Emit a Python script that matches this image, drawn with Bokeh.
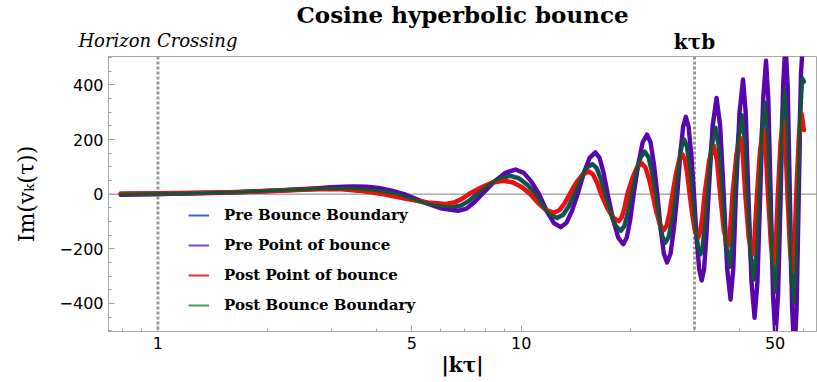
from bokeh.plotting import figure
from bokeh.models import (FixedTicker, CustomJSTickFormatter, Span, Title, LogAxis,
                          Legend, LegendItem, Range1d)
from bokeh.embed import file_html
from bokeh.resources import INLINE

# ---- data ----
# Pre Point of bounce (purple)
P_X = [0.79, 0.9, 1.0, 1.2, 1.5, 1.8, 2.1, 2.4, 2.7, 3.0, 3.25, 3.45, 3.75, 4.05, 4.4,
       4.76, 5.41, 6.05, 6.7, 7.07, 7.43,
       7.8, 8.42, 9.03, 9.65, 10.17, 10.68,
       11.2, 11.74, 12.29, 12.83, 13.32, 13.81,
       14.3, 14.87, 15.43, 16.0, 16.43, 16.87,
       17.3, 17.9, 18.5, 19.1, 19.53, 19.97,
       20.4, 21.0, 21.6, 22.2, 22.7, 23.2,
       23.7, 24.2, 24.7, 25.2, 25.77, 26.33,
       26.9, 27.4, 27.9, 28.4, 28.9, 29.4,
       29.9, 30.4, 30.9, 31.4, 31.87, 32.33,
       32.8, 33.65, 34.5, 35.3,
       36.1, 36.9, 37.7, 38.35,
       39.0, 39.9, 40.8, 41.5,
       42.2, 43.05, 43.9, 44.7,
       45.5, 46.35, 47.2, 47.9,
       48.6, 49.35, 50.1, 50.95,
       51.8, 52.6, 53.4, 54.15,
       54.9, 55.7, 56.5, 57.3,
       58.1, 58.9, 60.0]
P_Y = [-2, -1, 0, 2, 5, 9, 13, 17, 21, 25, 27, 28, 27, 23, 13,
       0, -30, -53, -61, -53, -30,
       0, 45, 78, 90, 78, 45,
       0, -60, -105, -121, -105, -60,
       0, 77, 133, 153, 133, 77,
       0, -92, -159, -183, -159, -92,
       0, 109, 190, 218, 190, 109,
       0, -125, -218, -250, -218, -125,
       0, 142, 246, 283, 246, 142,
       0, -158, -275, -316, -275, -158,
       0, 250, 352, 250,
       0, -274, -386, -274,
       0, 298, 420, 298,
       0, -322, -453, -322,
       0, 347, 489, 347,
       0, -371, -522, -371,
       0, 395, 556, 395,
       0, -419, -590, -419,
       0, 440, 615]

# Post Bounce Boundary (green) -- Pre Bounce Boundary (blue) lies almost on it
G_X = [0.79, 1.0, 1.3, 1.7, 2.1, 2.5, 2.85, 3.2, 3.55, 3.9, 4.25,
       4.56, 5.19, 5.82, 6.45, 6.82, 7.19,
       7.56, 8.14, 8.72, 9.3, 9.85, 10.4,
       10.95, 11.48, 12.02, 12.55, 13.03, 13.52,
       14.0, 14.57, 15.13, 15.7, 16.13, 16.57,
       17.0, 17.6, 18.2, 18.8, 19.23, 19.67,
       20.1, 20.7, 21.3, 21.9, 22.42, 22.93,
       23.45, 23.95, 24.45, 24.95, 25.5, 26.05,
       26.6, 27.1, 27.6, 28.1, 28.6, 29.1,
       29.6, 30.12, 30.63, 31.15, 31.6, 32.05,
       32.5, 33.38, 34.25, 35.03,
       35.8, 36.63, 37.45, 38.08,
       38.7, 39.6, 40.5, 41.2,
       41.9, 42.78, 43.65, 44.43,
       45.2, 46.03, 46.85, 47.58,
       48.3, 49.13, 49.95, 50.73,
       51.5, 52.3, 53.1, 53.83,
       54.55, 55.38, 56.2, 57.0,
       57.8, 58.58, 59.35, 60.0]
G_Y = [-1, 1, 4, 8, 13, 17, 21, 22, 20, 15, 8,
       0, -24, -42, -48, -42, -24,
       0, 34, 58, 67, 58, 34,
       0, -44, -76, -87, -76, -44,
       0, 55, 96, 110, 96, 55,
       0, -67, -117, -134, -117, -67,
       0, 78, 135, 155, 135, 78,
       0, -89, -155, -178, -155, -89,
       0, 100, 174, 200, 174, 100,
       0, -110, -191, -220, -191, -110,
       0, 173, 243, 173,
       0, -189, -266, -189,
       0, 205, 289, 205,
       0, -222, -313, -222,
       0, 238, 335, 238,
       0, -253, -357, -253,
       0, 270, 381, 270,
       0, -285, -401, -285,
       0, 300, 424, 412]

# Post Point of bounce (red)
R_X = [0.79, 1.0, 1.3, 1.7, 2.1, 2.5, 2.9, 3.2, 3.55, 3.85,
       4.19, 4.86, 5.53, 6.2, 6.53, 6.85,
       7.18, 7.77, 8.36, 8.95, 9.5, 10.05,
       10.6, 11.17, 11.73, 12.3, 12.73, 13.17,
       13.6, 14.18, 14.77, 15.35, 15.77, 16.18,
       16.6, 17.25, 17.9, 18.55, 18.9, 19.25,
       19.6, 20.22, 20.83, 21.45, 21.97, 22.48,
       23.0, 23.57, 24.13, 24.7, 25.17, 25.63,
       26.1, 26.67, 27.23, 27.8, 28.23, 28.67,
       29.1, 29.62, 30.13, 30.65, 31.1, 31.55,
       32.0, 32.95, 33.9, 34.6,
       35.3, 36.15, 37.0, 37.6,
       38.2, 39.15, 40.1, 40.75,
       41.4, 42.3, 43.2, 43.9,
       44.6, 45.5, 46.4, 47.1,
       47.8, 48.7, 49.6, 50.25,
       50.9, 51.78, 52.65, 53.38,
       54.1, 54.98, 55.85, 56.53,
       57.2, 58.15, 59.1, 60.0]
R_Y = [2, 3, 5, 8, 12, 16, 19, 18, 13, 7,
       0, -18, -31, -36, -31, -18,
       0, 25, 43, 49, 43, 25,
       0, -34, -59, -68, -59, -34,
       0, 42, 72, 83, 72, 42,
       0, -50, -86, -99, -86, -50,
       0, 57, 98, 113, 98, 57,
       0, -66, -114, -131, -114, -66,
       0, 73, 126, 145, 126, 73,
       0, -80, -139, -160, -139, -80,
       0, 125, 177, 125,
       0, -134, -190, -134,
       0, 146, 206, 146,
       0, -158, -223, -158,
       0, 166, 234, 166,
       0, -180, -253, -180,
       0, 190, 267, 190,
       0, -202, -284, -202,
       0, 210, 295, 235]

X_TICKS = [1, 5, 10, 50]
X_MINOR = [0.8, 0.9, 2, 3, 4, 6, 7, 8, 9, 20, 30, 40, 60]
Y_TICKS = [-400, -200, 0, 200, 400]
Y_MINOR = [-500, -450, -350, -300, -250, -150, -100, -50, 50, 100, 150, 250, 300, 350, 450, 500]
HORIZON = 1
BOUNCE = 30
SERIES = ["Pre Bounce Boundary", "Pre Point of bounce", "Post Point of bounce", "Post Bounce Boundary"]
TITLE = "Cosine hyperbolic bounce"
NAN = [float("nan")]

# ---- main plot ----
p = figure(width=817, height=382, x_axis_type="log",
           x_range=Range1d(0.731, 65.0), y_range=Range1d(-503, 504),
           output_backend="svg", toolbar_location=None,
           min_border_left=108, min_border_right=1, min_border_top=54, min_border_bottom=51)
p.title = Title(text=TITLE, align="center", vertical_align="bottom",
                text_font="DejaVu Serif", text_font_style="bold",
                text_font_size="23px", text_color="black", standoff=-3)
p.xgrid.visible = False
p.ygrid.visible = False
p.outline_line_color = "#a8a8a8"
p.background_fill_color = "white"

for ax in (p.xaxis[0], p.yaxis[0]):
    ax.axis_line_color = "#a8a8a8"
    ax.major_tick_line_color = "#a0a0a0"
    ax.minor_tick_line_color = "#a0a0a0"
    ax.major_tick_in = 6
    ax.major_tick_out = 0
    ax.minor_tick_in = 3
    ax.minor_tick_out = 0
    ax.major_label_text_font = "DejaVu Sans"
    ax.major_label_text_font_size = "16px"
    ax.major_label_text_color = "black"
    ax.major_label_standoff = 5
    ax.axis_label_text_font = "DejaVu Serif"
    ax.axis_label_text_color = "black"

p.xaxis[0].ticker = FixedTicker(ticks=X_TICKS, minor_ticks=X_MINOR)
p.xaxis[0].formatter = CustomJSTickFormatter(code="return String(tick);")
p.yaxis[0].ticker = FixedTicker(ticks=Y_TICKS, minor_ticks=Y_MINOR)
p.yaxis[0].formatter = CustomJSTickFormatter(
    code="return tick < 0 ? '\u2212' + String(-tick) : String(tick);")

p.xaxis[0].axis_label = "|kτ|"
p.xaxis[0].axis_label_text_font_style = "bold"
p.xaxis[0].axis_label_text_font_size = "20px"
p.xaxis[0].axis_label_standoff = 1
p.yaxis[0].axis_label = "Im(vₖ(τ))"
p.yaxis[0].axis_label_text_font_style = "normal"
p.yaxis[0].axis_label_text_font_size = "22px"
p.yaxis[0].axis_label_standoff = 18

# captions above the frame, placed by the x scale at the two marked times
def caption_axis(tick, text, style, size, standoff):
    a = LogAxis(ticker=FixedTicker(ticks=[tick], minor_ticks=[]),
                major_label_overrides={tick: text},
                axis_line_color=None, major_tick_line_color=None,
                minor_tick_line_color=None, major_tick_in=0, major_tick_out=0,
                major_label_standoff=standoff, major_label_text_font="DejaVu Serif",
                major_label_text_font_style=style, major_label_text_font_size=size,
                major_label_text_color="black")
    p.add_layout(a, "above")

caption_axis(BOUNCE, "kτb", "bold", "20px", 3)
caption_axis(HORIZON, "Horizon Crossing", "italic", "18px", -24)

p.add_layout(Span(location=0, dimension="width", line_color="#808080", line_width=1, level="underlay"))
for m in (HORIZON, BOUNCE):
    p.add_layout(Span(location=m, dimension="height", line_color="#999999",
                      line_width=3, line_dash="3 2", level="underlay"))

# curves (order: blue, purple, red, green)
p.line(G_X, G_Y, line_color="#1f4fbf", line_width=4.6, line_join="round", line_cap="round")
p.line(P_X, P_Y, line_color="#5a06ad", line_width=4.4, line_join="round", line_cap="round")
p.line(R_X, R_Y, line_color="#e81010", line_width=4.6, line_join="round", line_cap="round")
p.line(G_X, G_Y, line_color="#0b5a2e", line_width=3, line_join="round", line_cap="round")

# legend with thin swatches
items = []
for name, col in zip(SERIES, ["#3c5fd6", "#7a45cf", "#ee2d2d", "#4f9a55"]):
    r = p.line(x=NAN, y=NAN, line_color=col, line_width=2)
    items.append(LegendItem(label=name, renderers=[r]))
legend = Legend(items=items, location=(80, 16), background_fill_alpha=0,
                border_line_alpha=0, padding=0, margin=0, spacing=10,
                glyph_width=21, glyph_height=20, label_height=20, label_standoff=15,
                label_text_font="DejaVu Serif", label_text_font_style="bold",
                label_text_font_size="15px", label_text_color="black")
p.add_layout(legend)

open("out.html", "w").write(file_html(p, INLINE))
